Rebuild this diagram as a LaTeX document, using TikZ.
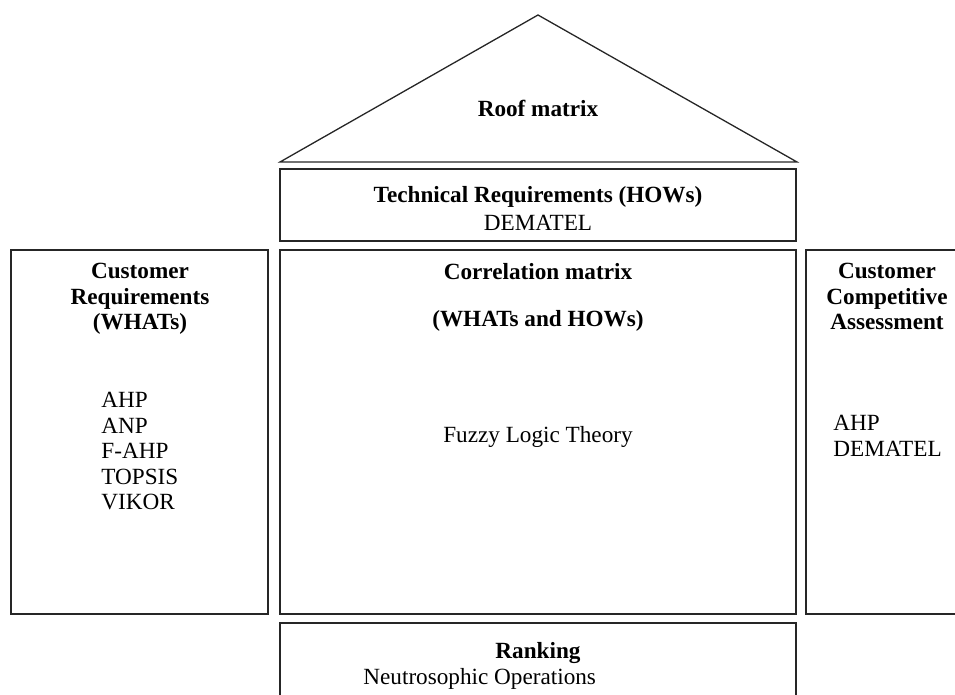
\documentclass[tikz,border=0pt]{standalone}
\usepackage{fontspec}
\setmainfont{Liberation Serif}
\usetikzlibrary{positioning}
\newcommand{\qfdfont}{\fontsize{11.6}{12.75}\selectfont}

\begin{document}
\begin{tikzpicture}[x=0.5pt,y=-0.5pt,
   frame/.style={draw=black!85,line width=0.8pt,line join=miter},
   head/.style={font=\qfdfont\bfseries,align=center,inner sep=0pt,anchor=north},
   body/.style={font=\qfdfont,align=left,inner sep=0pt,anchor=north west}]
   \useasboundingbox (0,0) rectangle (955,695);
   \clip (0,0) rectangle (955,695);
   % house outline
   \draw[frame,line width=0.65pt] (280,162) -- (538,15) -- (797,162) -- cycle;
   \draw[frame] (280,169) rectangle (796,241);
   \draw[frame] (11,250) rectangle (268,614);
   \draw[frame] (280,250) rectangle (796,614);
   \draw[frame] (806,250) rectangle (975,614);
   \draw[frame] (280,623) rectangle (796,720);
   % labels
   \node[head] (roof) at (538,100) {Roof matrix};
   \node[head] (techhead) at (538,186) {Technical Requirements (HOWs)};
   \node[head,font=\qfdfont] (techtool) at (538,215) {DEMATEL};
   \node[head] (whathead) at (140,263) {Customer\\Requirements\\(WHATs)};
   \node[body] (whattools) at (101,392) {AHP\\ANP\\F-AHP\\TOPSIS\\VIKOR};
   \node[head] (corrhead) at (538,263) {Correlation matrix\\[11pt](WHATs and HOWs)};
   \node[head,font=\qfdfont] (corrtool) at (538,426) {Fuzzy Logic Theory};
   \node[head] (assesshead) at (887,263) {Customer\\Competitive\\Assessment};
   \node[body] (assesstools) at (833,415) {AHP\\DEMATEL};
   \node[head] (rankhead) at (538,642) {Ranking};
   \node[body] (ranktool) at (363,668) {Neutrosophic Operations};
\end{tikzpicture}
\end{document}
